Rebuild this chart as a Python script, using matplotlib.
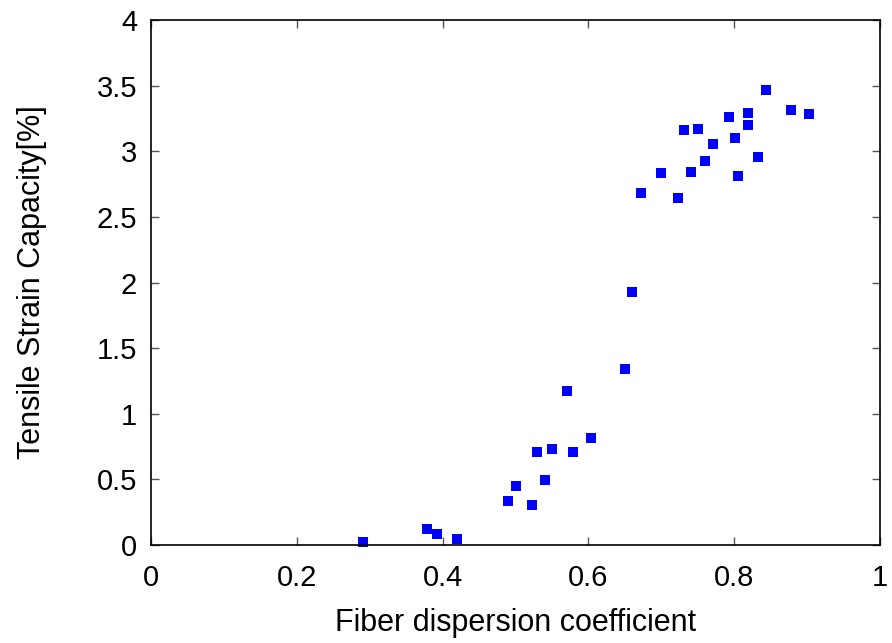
import matplotlib.pyplot as plt

# fiber dispersion coefficient vs tensile strain capacity
disp = [0.291, 0.379, 0.392, 0.420, 0.490, 0.501, 0.523, 0.530, 0.540, 0.550,
        0.571, 0.579, 0.604, 0.650, 0.660, 0.672, 0.700, 0.723, 0.731, 0.741,
        0.750, 0.760, 0.771, 0.793, 0.801, 0.805, 0.819, 0.819, 0.833, 0.844,
        0.878, 0.903]
strain = [0.023, 0.122, 0.084, 0.046, 0.335, 0.450, 0.305, 0.709, 0.495, 0.731,
          1.173, 0.709, 0.815, 1.341, 1.928, 2.682, 2.834, 2.644, 3.162, 2.842,
          3.170, 2.926, 3.055, 3.261, 3.100, 2.811, 3.290, 3.200, 2.956, 3.467,
          3.314, 3.284]

xticks = [0, 0.2, 0.4, 0.6, 0.8, 1]
xticklabels = ['0', '0.2', '0.4', '0.6', '0.8', '1']
yticks = [0, 0.5, 1, 1.5, 2, 2.5, 3, 3.5, 4]
yticklabels = ['0', '0.5', '1', '1.5', '2', '2.5', '3', '3.5', '4']

plt.rcParams['font.family'] = ['Liberation Sans', 'DejaVu Sans']

fig = plt.figure(figsize=(8.92, 6.43), dpi=100)
ax = fig.add_axes([151 / 892, 1 - 545 / 643, 729 / 892, 525 / 643])

ax.plot(disp, strain, 's', color='#0000ff', ms=7.2, mew=0, clip_on=False)

ax.set_xlim(0, 1)
ax.set_ylim(0, 4)
ax.set_xticks(xticks)
ax.set_xticklabels(xticklabels)
ax.set_yticks(yticks)
ax.set_yticklabels(yticklabels)

ax.tick_params(direction='in', length=6, width=1, color='#555555',
               top=True, right=True, labelsize=21)
ax.tick_params(axis='x', pad=14)
ax.tick_params(axis='y', pad=10)
for s in ax.spines.values():
    s.set_linewidth(1.2)

ax.set_xlabel('Fiber dispersion coefficient', fontsize=22, labelpad=11)
ax.set_ylabel('Tensile Strain Capacity[%]', fontsize=22, labelpad=36)

fig.savefig('out.png', dpi=100)
